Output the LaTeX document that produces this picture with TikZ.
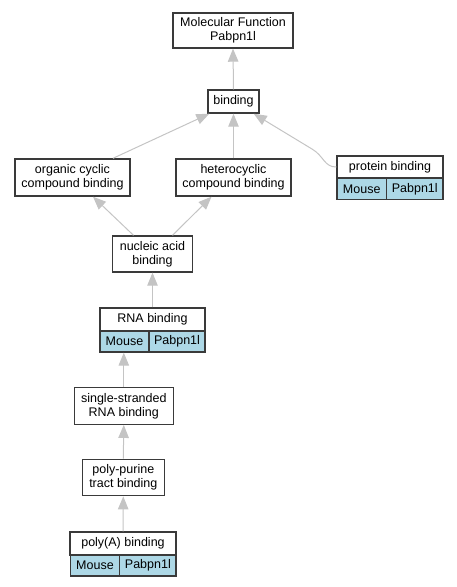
\documentclass[tikz,border=0pt]{standalone}
\usepackage{fontspec}
\setmainfont{Liberation Sans}
\usetikzlibrary{arrows.meta}
\definecolor{edgegray}{HTML}{C4C4C4}
\definecolor{boxgray}{HTML}{3A3A3A}
\definecolor{cellblue}{HTML}{ADD8E6}
\begin{document}
\begin{tikzpicture}[x=1pt,y=-1pt,
		term/.style={draw=boxgray,line width=1.4pt,fill=white,inner sep=0pt,align=center,
			font=\fontsize{12.5}{14}\selectfont},
		cell/.style={term,fill=cellblue,minimum height=21pt},
		isa/.style={draw=edgegray,line width=1pt,-{Triangle[length=13pt,width=10.5pt]}}]
		\useasboundingbox (0,0) rectangle (457,587);

		% top of the tree
		\node[term,minimum width=120pt,minimum height=35pt] (mf) at (233,30.5) {Molecular Function\\Pabpn1l};
		\node[term,minimum width=51pt,minimum height=23pt] (bind) at (233.5,101.5) {binding};

		% second row
		\node[term,minimum width=115pt,minimum height=37pt] (org) at (72.5,177.5) {organic cyclic\\compound binding};
		\node[term,minimum width=115pt,minimum height=37pt] (het) at (233.5,177.5) {heterocyclic\\compound binding};
		\node[term,minimum width=106pt,minimum height=22pt] (prot) at (390,167) {protein binding};
		\node[cell,minimum width=49.5pt] (protM) at (361.75,189) {Mouse};
		\node[cell,minimum width=56.5pt] (protP) at (414.75,189) {Pabpn1l};

		% chain down to poly(A)
		\node[term,minimum width=80pt,minimum height=36pt] (nuc) at (152.5,254) {nucleic acid\\binding};
		\node[term,minimum width=105pt,minimum height=23pt] (rna) at (152.5,319.5) {RNA binding};
		\node[cell,minimum width=49pt] (rnaM) at (124.5,341.5) {Mouse};
		\node[cell,minimum width=56pt] (rnaP) at (177,341.5) {Pabpn1l};
		\node[term,minimum width=99pt,minimum height=36.5pt] (ss) at (123.8,406) {single-stranded\\RNA binding};
		\node[term,minimum width=82pt,minimum height=36.4pt] (pp) at (123.3,477.5) {poly-purine\\tract binding};
		\node[term,minimum width=105.7pt,minimum height=23pt] (polyA) at (123,543.5) {poly(A) binding};
		\node[cell,minimum width=49.4pt] (polyAM) at (95,565.5) {Mouse};
		\node[cell,minimum width=56.3pt] (polyAP) at (147.85,565.5) {Pabpn1l};

		% is-a edges
		\draw[isa] (bind.north) -- (mf.south);
		\draw[isa] ([xshift=40.5pt]org.north) -- ([xshift=2pt]bind.south west);
		\draw[isa] (het.north) -- (bind.south);
		\draw[isa] (prot.west) .. controls (324,167) and (324,156) .. (312,149) -- ([xshift=-6pt]bind.south east);
		\draw[isa] ([xshift=-19pt]nuc.north) -- ([xshift=20.5pt]org.south);
		\draw[isa] ([xshift=20pt]nuc.north) -- ([xshift=-22pt]het.south);
		\draw[isa] (rna.north) -- (nuc.south);
		\draw[isa] (ss.north) -- (ss.north |- rnaM.south);
		\draw[isa] (pp.north) -- (ss.south);
		\draw[isa] (polyA.north) -- (pp.south);
	\end{tikzpicture}
\end{document}
